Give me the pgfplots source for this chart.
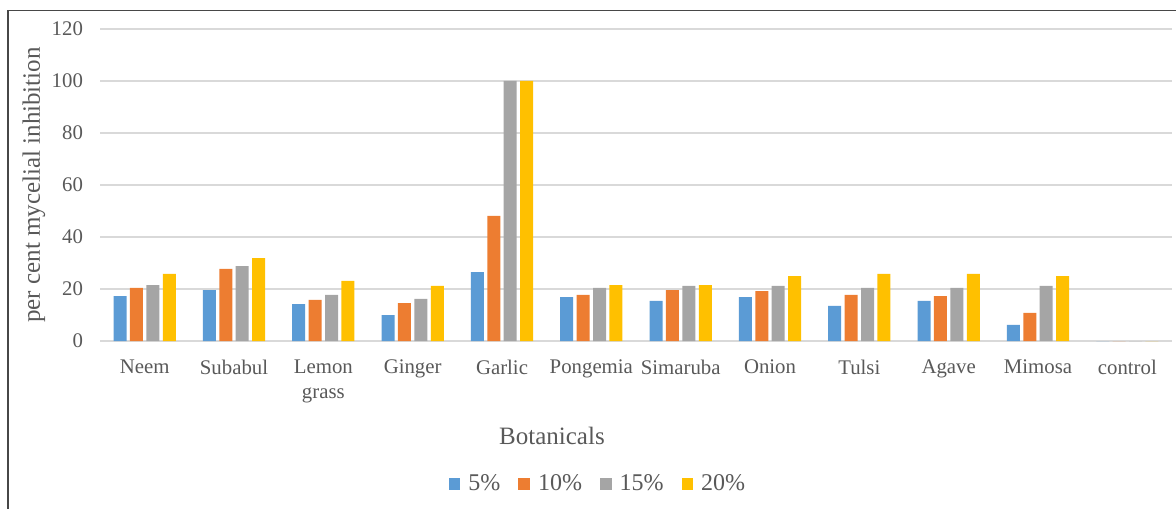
\documentclass[border=0pt]{standalone}
\usepackage{fontspec}
\setmainfont{Liberation Serif}
\usepackage{pgfplots}
\pgfplotsset{compat=1.18}
\definecolor{cA}{HTML}{5B9BD5}
\definecolor{cB}{HTML}{ED7D31}
\definecolor{cC}{HTML}{A5A5A5}
\definecolor{cD}{HTML}{FFC000}
\definecolor{txt}{HTML}{595959}
\definecolor{grid}{HTML}{D9D9D9}
\begin{document}
\begin{tikzpicture}
\path[use as bounding box] (-50pt,-83.5pt) rectangle (538pt,170.5pt);
\draw[color=txt!80!black, line width=0.6pt] (-46pt,-84pt) -- (-46pt,165.3pt) -- (539pt,165.3pt);
\begin{axis}[
  at={(0,0)}, anchor=south west,
  scale only axis, width=536pt, height=156pt,
  ybar=1.7pt, bar width=6.5pt,
  xmin=-0.5, xmax=11.5, ymin=0, ymax=120,
  ytick={0,20,...,120},
  xtick={0,...,11},
  xticklabels={Neem,Subabul,{Lemon\\grass},Ginger,Garlic,Pongemia,Simaruba,Onion,Tulsi,Agave,Mimosa,control},
  axis line style={draw=none},
  major tick length=0pt,
  ymajorgrids, grid style={color=grid, line width=0.9pt},
  font=\fontsize{10.4}{12.5}\selectfont,
  tick label style={color=txt},
  /pgf/number format/assume math mode=true,
  xticklabel style={align=center, anchor=north, yshift=-6pt},
  yticklabel style={anchor=east, xshift=-5pt},
  xlabel={Botanicals}, ylabel={per cent mycelial inhibition},
  every axis x label/.style={at={(axis description cs:0.4216,-0.3045)}, anchor=center, color=txt, font=\fontsize{12.5}{15}\selectfont},
  every axis y label/.style={at={(axis description cs:-0.0616,0.5)}, anchor=center, rotate=90, color=txt, font=\fontsize{12.5}{15}\selectfont},
  legend columns=4,
  legend style={draw=none, at={(axis description cs:0.4655,-0.458)}, anchor=center, text=txt, font=\fontsize{12}{14}\selectfont, column sep=2pt, /tikz/every even column/.append style={column sep=7pt}},
  legend image code/.code={\path[#1,draw=none] (0pt,-2.9pt) rectangle (5.8pt,2.9pt);},
]
\addplot[fill=cA, draw=none] coordinates {(0,17.3) (1,19.6) (2,14.2) (3,10.0) (4,26.5) (5,16.9) (6,15.4) (7,16.9) (8,13.5) (9,15.4) (10,6.2) (11,0)};
\addplot[fill=cB, draw=none] coordinates {(0,20.4) (1,27.7) (2,15.8) (3,14.6) (4,48.1) (5,17.7) (6,19.6) (7,19.2) (8,17.7) (9,17.3) (10,10.8) (11,0)};
\addplot[fill=cC, draw=none] coordinates {(0,21.5) (1,28.8) (2,17.7) (3,16.2) (4,100) (5,20.4) (6,21.2) (7,21.2) (8,20.4) (9,20.4) (10,21.2) (11,0)};
\addplot[fill=cD, draw=none] coordinates {(0,25.8) (1,31.9) (2,23.1) (3,21.2) (4,100) (5,21.5) (6,21.5) (7,25.0) (8,25.8) (9,25.8) (10,25.0) (11,0)};
\legend{5\%,10\%,15\%,20\%}
\end{axis}
\end{tikzpicture}
\end{document}
